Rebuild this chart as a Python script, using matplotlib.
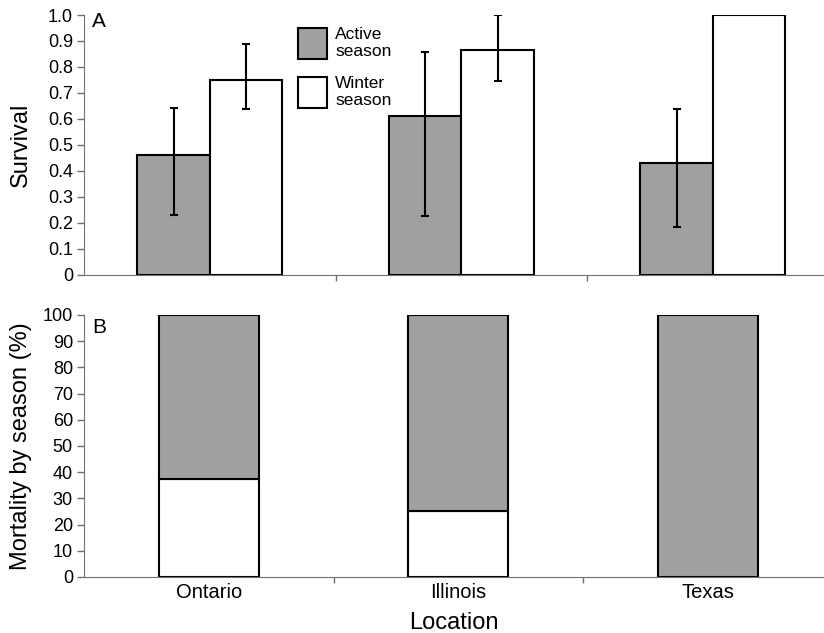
"""
Survival and mortality by season at three locations (two panel bar chart)
"""

import numpy as np
import matplotlib
matplotlib.use('Agg')
import matplotlib.pyplot as plt
from matplotlib.patches import Patch

plt.rcParams['font.family'] = ['Liberation Sans', 'DejaVu Sans']

# data
locations = ['Ontario', 'Illinois', 'Texas']
survival_active = [0.46, 0.61, 0.43]
survival_active_lo = [0.23, 0.228, 0.183]
survival_active_hi = [0.641, 0.859, 0.638]
survival_winter = [0.75, 0.865, 1.0]
survival_winter_lo = [0.637, 0.745, np.nan]
survival_winter_hi = [0.888, 1.0, np.nan]

mortality_winter = [37.5, 25.0, 0.0]
mortality_active = [62.5, 75.0, 100.0]

grey = '#a0a0a0'
spine_col = '#707070'

fig = plt.figure(figsize=(8.24, 6.33), dpi=100)
ax1 = fig.add_axes([0.102, 0.5656, 0.898, 0.4107])
ax2 = fig.add_axes([0.102, 0.0885, 0.898, 0.4139])

x = np.arange(len(locations))
w = 0.288

# Panel A: survival
act_err = [np.array(survival_active) - np.array(survival_active_lo),
           np.array(survival_active_hi) - np.array(survival_active)]
win_err = [np.array(survival_winter) - np.array(survival_winter_lo),
           np.array(survival_winter_hi) - np.array(survival_winter)]

ax1.bar(x - w / 2, survival_active, w, color=grey, edgecolor='black', linewidth=1.5)
ax1.bar(x + w / 2, survival_winter, w, color='white', edgecolor='black', linewidth=1.5)
ax1.errorbar(x - w / 2, survival_active, yerr=act_err, fmt='none', ecolor='black',
             elinewidth=1.5, capsize=3, capthick=1.5)
ax1.errorbar(x + w / 2, survival_winter, yerr=win_err, fmt='none', ecolor='black',
             elinewidth=1.5, capsize=3, capthick=1.5)

ax1.set_xlim(-0.5, 2.442)
ax1.set_ylim(0, 1.0)
ax1.set_yticks(np.arange(0, 1.01, 0.1))
ax1.set_yticklabels(['0'] + [f'{v:.1f}' for v in np.arange(0.1, 1.01, 0.1)])
ax1.set_xticks([0.5, 1.5])
ax1.set_xticklabels([])
ax1.set_ylabel('Survival', fontsize=17)
ax1.yaxis.set_label_coords(-0.07, 0.5)
ax1.text(0.011, 1.012, 'A', transform=ax1.transAxes, fontsize=15, va='top', ha='left')

handles = [Patch(facecolor=grey, edgecolor='black', linewidth=1.5),
           Patch(facecolor='white', edgecolor='black', linewidth=1.5)]
leg = ax1.legend(handles, ['Active\nseason', 'Winter\nseason'], loc='upper left',
                 bbox_to_anchor=(0.289, 0.955), frameon=False, fontsize=12.5,
                 handlelength=1.7, handleheight=2.35, handletextpad=0.45,
                 labelspacing=1.0, borderpad=0, borderaxespad=0)
for t in leg.get_texts():
    t.set_linespacing(1.15)

# Panel B: mortality by season (stacked)
wb = 0.4
ax2.bar(x, mortality_winter, wb, color='white', edgecolor='black', linewidth=1.5)
ax2.bar(x, mortality_active, wb, bottom=mortality_winter, color=grey,
        edgecolor='black', linewidth=1.5)

ax2.set_xlim(-0.5, 2.466)
ax2.set_ylim(0, 100)
ax2.set_yticks(np.arange(0, 101, 10))
ax2.set_xticks(x)
ax2.set_xticklabels(locations, fontsize=14.5)
ax2.set_xticks([0.5, 1.5], minor=True)
ax2.tick_params(axis='x', which='major', length=0, pad=4)
ax2.tick_params(axis='x', which='minor', length=4, width=1, color=spine_col, direction='out')
ax2.set_ylabel('Mortality by season (%)', fontsize=17)
ax2.yaxis.set_label_coords(-0.07, 0.5)
ax2.set_xlabel('Location', fontsize=17)
ax2.xaxis.set_label_coords(0.5, -0.132)
ax2.text(0.011, 0.99, 'B', transform=ax2.transAxes, fontsize=15, va='top', ha='left')

for ax in (ax1, ax2):
    ax.spines['top'].set_visible(False)
    ax.spines['right'].set_visible(False)
    ax.spines['left'].set_color(spine_col)
    ax.spines['bottom'].set_color(spine_col)
    ax.tick_params(axis='y', length=5, width=1, color=spine_col, labelsize=13, pad=3)
    ax.set_axisbelow(False)
ax1.tick_params(axis='x', length=4, width=1, color=spine_col)

plt.savefig('out.png', dpi=100)
plt.close()
